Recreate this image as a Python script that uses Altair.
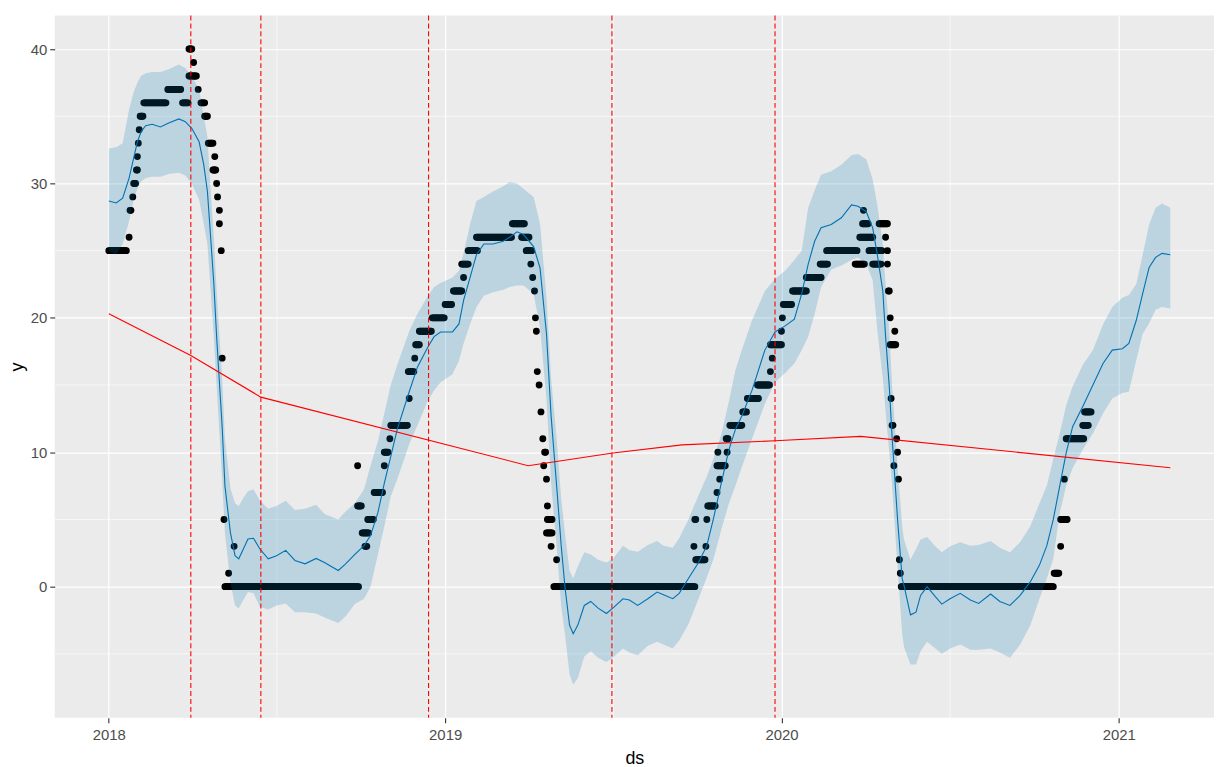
import altair as alt
import pandas as pd

START = pd.Timestamp("2018-01-01")

# ---------------- observed history (black points) ----------------
# runs of consecutive days (offset from START) sharing the same observed value
OBS_FROM = [0, 22, 23, 26, 27, 30, 31, 32, 33, 34, 38, 64, 80, 87, 92, 87, 97, 100, 104, 108,
            115, 113, 117, 118, 120, 120, 122, 123, 125, 130, 136, 126,
            270, 270, 275, 278, 281, 288, 299, 299, 305, 306, 326, 325, 332, 333, 337, 351, 365, 374,
            385, 383, 390, 399, 438, 448, 453, 458, 460, 462, 463, 464, 465, 467, 469, 471, 472, 473,
            475, 476, 475, 476, 480, 486, 483,
            635, 636, 637, 648, 649, 650, 660, 663, 660, 661, 671, 670, 674, 688, 693, 704, 718, 720,
            718, 730, 731, 732, 742, 757, 772, 779, 810, 815, 818, 819, 825, 829, 836, 843, 845, 845,
            846, 848, 853, 848, 849, 850, 855, 856, 852, 857, 858, 859, 860,
            1026, 1033, 1033, 1037, 1039, 1057, 1059]
OBS_TO = [19, 22, 24, 26, 29, 31, 31, 32, 33, 37, 62, 78, 86, 90, 92, 95, 97, 104, 107, 113,
          115, 116, 117, 118, 120, 120, 122, 123, 125, 130, 136, 271,
          270, 274, 282, 280, 287, 297, 299, 303, 305, 324, 326, 331, 332, 337, 350, 364, 372, 383,
          385, 390, 400, 437, 451, 456, 459, 458, 460, 462, 463, 464, 465, 467, 469, 471, 472, 474,
          475, 476, 481, 481, 480, 486, 636,
          635, 637, 647, 648, 649, 658, 660, 663, 669, 661, 671, 672, 687, 692, 705, 717, 718, 720,
          730, 730, 731, 741, 757, 773, 780, 812, 820, 829, 824, 819, 839, 838, 845, 843, 845, 845,
          847, 848, 853, 854, 849, 851, 855, 856, 852, 857, 858, 859, 1025,
          1031, 1033, 1040, 1037, 1058, 1063, 1066]
OBS_Y = [25, 26, 28, 29, 30, 31, 32, 33, 34, 35, 36, 37, 36, 40, 39, 38, 37, 36, 35, 33,
         32, 31, 30, 29, 28, 27, 25, 17, 5, 1, 3, 0,
         9, 6, 4, 3, 5, 7, 9, 10, 11, 12, 14, 16, 17, 18, 19, 20, 21, 22,
         23, 24, 25, 26, 27, 26, 25, 24, 23, 22, 20, 19, 16, 15, 13, 11, 9, 10,
         8, 6, 4, 5, 3, 2, 0,
         3, 5, 2, 3, 5, 6, 7, 8, 9, 10, 10, 11, 12, 13, 14, 15, 16, 17,
         18, 19, 20, 21, 22, 23, 24, 25, 24, 26, 27, 28, 25, 24, 27, 26, 25, 24,
         22, 20, 19, 18, 14, 12, 11, 10, 9, 8, 2, 1, 0,
         1, 3, 5, 8, 11, 12, 13]

# ---------------- forecast (yhat and uncertainty band) ----------------
FC_DAY = [0, 8, 15, 22, 27, 31, 35, 40, 47, 56,
          65, 76, 83, 90, 98, 103, 107, 110, 114, 117,
          123, 126, 132, 137, 141, 146, 151, 157, 164, 173,
          182, 192, 202, 213, 225, 234, 249, 257, 267, 277,
          284, 292, 299, 306, 313, 326, 335, 346, 353, 360,
          373, 380, 385, 392, 399, 407, 417, 428, 435, 443,
          450, 461, 468, 475, 480, 486, 491, 495, 500, 504,
          509, 516, 523, 531, 540, 547, 558, 565, 574, 585,
          595, 602, 612, 619, 629, 640, 649, 656, 665, 673,
          680, 687, 698, 712, 723, 734, 744, 752, 759, 766,
          773, 784, 795, 806, 813, 822, 829, 834, 840, 843,
          847, 850, 856, 861, 863, 870, 876, 881, 888, 897,
          904, 913, 924, 935, 944, 957, 967, 978, 989, 1000,
          1010, 1018, 1025, 1032, 1039, 1046, 1057, 1068, 1079, 1089,
          1100, 1107, 1115, 1122, 1129, 1136, 1143, 1152]
YHAT = [28.7, 28.55, 28.9, 30.4, 31.9, 33.1, 33.85, 34.3, 34.4, 34.2,
        34.5, 34.8, 34.6, 34.1, 33.1, 31.4, 29.4, 26.5, 22.5, 18.6,
        11.9, 7.5, 4.0, 2.3, 2.07, 2.8, 3.55, 3.6, 2.8, 2.07,
        2.3, 2.7, 1.95, 1.7, 2.1, 1.8, 1.2, 1.7, 2.4, 3.05,
        3.8, 5.5, 7.7, 9.7, 11.7, 14.5, 16.35, 17.8, 18.6, 18.95,
        18.95, 19.55, 21.3, 23.0, 24.7, 25.5, 25.5, 25.7, 26.0, 26.4,
        26.2, 25.3, 23.7, 18.8, 12.7, 7.5, 3.0, 0.0, -2.86, -3.5,
        -2.86, -1.4, -1.1, -1.6, -2.0, -1.6, -0.9, -1.0, -1.4, -0.9,
        -0.4, -0.6, -0.9, -0.5, 0.6, 1.8, 3.05, 5.0, 7.8, 10.2,
        11.7, 12.7, 14.6, 17.6, 18.95, 19.4, 19.9, 21.8, 24.0, 25.7,
        26.7, 26.95, 27.45, 28.4, 28.3, 27.9, 26.7, 24.7, 22.0, 18.6,
        14.9, 11.2, 5.0, 0.6, 0.1, -2.1, -1.9, -0.65, 0.0, -0.75,
        -1.3, -0.9, -0.5, -1.0, -1.25, -0.55, -1.1, -1.4, -0.65, 0.35,
        1.6, 3.05, 5.0, 7.5, 9.95, 11.9, 13.4, 15.0, 16.6, 17.6,
        17.7, 18.1, 19.8, 21.8, 23.75, 24.5, 24.8, 24.7]
YHAT_UPPER = [32.6, 32.7, 33.0, 35.5, 36.8, 37.5, 38.0, 38.2, 38.3, 38.3,
              38.5, 38.85, 38.6, 38.0, 37.0, 35.0, 33.5, 30.0, 26.0, 22.0,
              15.5, 11.0, 7.3, 6.2, 6.0, 6.6, 7.1, 7.25, 6.4, 5.8,
              6.0, 6.4, 5.7, 5.8, 6.1, 5.4, 5.0, 5.6, 6.2, 7.25,
              9.0, 10.8, 12.9, 15.0, 16.5, 19.0, 20.3, 21.6, 22.3, 22.6,
              23.0, 23.5, 24.8, 26.95, 28.7, 29.0, 29.4, 29.8, 30.1, 30.0,
              29.6, 29.0, 27.0, 21.5, 15.5, 11.0, 6.5, 4.0, 1.2, 0.6,
              1.5, 2.56, 2.4, 2.0, 1.8, 2.07, 3.05, 2.7, 2.6, 3.1,
              3.4, 3.05, 2.9, 3.6, 5.0, 6.8, 8.2, 9.5, 11.4, 13.8,
              16.1, 17.6, 19.8, 22.0, 22.9, 23.5, 24.3, 25.0, 28.2, 29.5,
              30.65, 30.9, 31.4, 32.1, 32.2, 31.8, 30.3, 28.4, 25.5, 22.5,
              19.0, 15.0, 9.0, 4.5, 3.5, 2.0, 2.8, 3.5, 3.7, 3.0,
              2.56, 3.0, 3.3, 3.05, 3.1, 3.4, 2.9, 2.56, 3.3, 4.5,
              6.2, 7.5, 9.5, 11.4, 13.5, 14.9, 16.5, 17.6, 19.5, 20.8,
              21.5, 21.7, 22.5, 24.7, 26.95, 28.2, 28.5, 28.2]
YHAT_LOWER = [25.0, 24.7, 25.5, 27.2, 28.8, 29.6, 30.15, 30.4, 30.5, 30.5,
              30.7, 30.8, 30.6, 30.0, 28.8, 27.0, 25.5, 22.5, 18.5, 15.0,
              8.0, 4.0, 0.3, -1.4, -1.6, -1.0, -0.4, -0.5, -1.5, -1.7,
              -1.4, -1.25, -1.9, -1.9, -2.0, -2.3, -2.7, -2.2, -1.3, -0.9,
              0.0, 2.4, 4.5, 6.7, 8.0, 10.6, 12.0, 13.8, 14.6, 15.2,
              15.8, 16.8, 18.1, 19.5, 20.8, 21.65, 21.9, 22.1, 22.3, 22.4,
              22.4, 21.8, 19.3, 13.9, 7.7, 3.0, -1.5, -3.5, -6.5, -7.3,
              -6.8, -5.2, -4.8, -5.3, -5.6, -5.3, -4.6, -4.9, -5.1, -4.4,
              -4.1, -4.3, -4.6, -4.0, -2.8, -0.9, 0.7, 2.0, 4.3, 6.2,
              7.5, 8.9, 11.0, 13.6, 15.2, 15.9, 16.6, 17.6, 18.6, 20.3,
              22.3, 23.6, 23.9, 24.3, 24.5, 24.0, 22.8, 19.1, 15.5, 13.0,
              10.0, 7.5, 1.5, -3.5, -4.5, -5.8, -5.8, -4.8, -4.1, -4.6,
              -5.0, -4.6, -4.3, -4.7, -4.7, -4.6, -4.9, -5.3, -4.3, -2.9,
              -0.9, 0.6, 2.07, 5.5, 7.5, 8.8, 10.2, 11.4, 12.9, 14.0,
              14.4, 14.5, 16.85, 18.8, 19.6, 20.6, 20.8, 20.7]

# ---------------- trend and significant changepoints ----------------
TREND_DAY = [0, 89, 165, 455, 547, 622, 723, 816, 1152]
TREND = [20.3, 17.2, 14.1, 9.0, 9.95, 10.55, 10.85, 11.18, 8.85]
CP_DAY = [89, 165, 347, 546, 723]

# ---------------- axes ----------------
X_TICK_YEARS = [2018, 2019, 2020, 2021]
MINOR_X = ["2017-07-02T12:00:00", "2018-07-02T12:00:00", "2019-07-02T12:00:00",
           "2020-07-02T00:00:00", "2021-07-02T12:00:00"]
Y_TICKS = [0, 10, 20, 30, 40]
MINOR_Y = [-5, 5, 15, 25, 35]


def to_dates(days):
    return [START + pd.Timedelta(days=int(d)) for d in days]


obs_ds, obs_y = [], []
for a, b, v in zip(OBS_FROM, OBS_TO, OBS_Y):
    for d in range(a, b + 1):
        obs_ds.append(START + pd.Timedelta(days=d))
        obs_y.append(v)
obs = pd.DataFrame({"ds": obs_ds, "y": obs_y})
fc = pd.DataFrame({"ds": to_dates(FC_DAY), "yhat": YHAT,
                   "lower": YHAT_LOWER, "upper": YHAT_UPPER})
trend = pd.DataFrame({"ds": to_dates(TREND_DAY), "trend": TREND})
cps = pd.DataFrame({"ds": to_dates(CP_DAY)})
minor_x = pd.DataFrame({"ds": pd.to_datetime(MINOR_X)})
minor_y = pd.DataFrame({"y": MINOR_Y})

FONT = "Liberation Sans"
x_scale = alt.Scale(domain=[alt.DateTime(year=2017, month=11, date=3, hours=6),
                            alt.DateTime(year=2021, month=4, date=14, hours=10)])
y_scale = alt.Scale(domain=[-9.76, 42.5], nice=False, zero=False)

common_axis = dict(domain=False, grid=True, gridColor="white", gridWidth=1.2,
                   tickColor="#333333", tickWidth=1.1, tickSize=5,
                   labelColor="#4D4D4D", labelFont=FONT, labelFontSize=15,
                   titleFont=FONT, titleFontSize=18, titleFontWeight="normal",
                   titleColor="black", labelOverlap=False, labelFlush=False)
x_axis = alt.Axis(values=[alt.DateTime(year=y, month=1, date=1) for y in X_TICK_YEARS],
                  format="%Y", labelPadding=5, titleX=583.5, titleY=46,
                  titleAlign="center", titleBaseline="alphabetic", **common_axis)
y_axis = alt.Axis(values=Y_TICKS, labelPadding=3, titleX=-32, titleY=353.5,
                  titleAngle=-90, titleAlign="center", titleBaseline="alphabetic",
                  **common_axis)


def X(field="ds"):
    return alt.X(f"{field}:T", scale=x_scale, axis=x_axis, title="ds")


def Y(field):
    return alt.Y(f"{field}:Q", scale=y_scale, axis=y_axis, title="y")


minor_v = alt.Chart(minor_x).mark_rule(color="white", strokeWidth=0.6).encode(x=X())
minor_h = alt.Chart(minor_y).mark_rule(color="white", strokeWidth=0.6).encode(y=Y("y"))
points = alt.Chart(obs).mark_circle(size=48, color="black", opacity=1).encode(x=X(), y=Y("y"))
line = alt.Chart(fc).mark_line(color="#0072B2", strokeWidth=1.1).encode(x=X(), y=Y("yhat"))
band = alt.Chart(fc).mark_area(color="#0072B2", opacity=0.2).encode(
    x=X(), y=Y("lower"), y2=alt.Y2("upper"))
trend_line = alt.Chart(trend).mark_line(color="#FF0000", strokeWidth=1.1).encode(
    x=X(), y=Y("trend"))
cp_rules = alt.Chart(cps).mark_rule(color="#FF0000", strokeWidth=1.1,
                                    strokeDash=[5, 3]).encode(x=X())

chart = alt.layer(minor_v, minor_h, points, line, band, trend_line, cp_rules).properties(
    width=1167, height=707,
    padding={"left": 47, "top": 5, "right": 0, "bottom": 47},
    autosize=alt.AutoSizeParams(type="none"),
    background="white",
).configure_view(fill="#EBEBEB", strokeWidth=0)

chart.save("out.html", embed_options={"renderer": "svg", "actions": False})
